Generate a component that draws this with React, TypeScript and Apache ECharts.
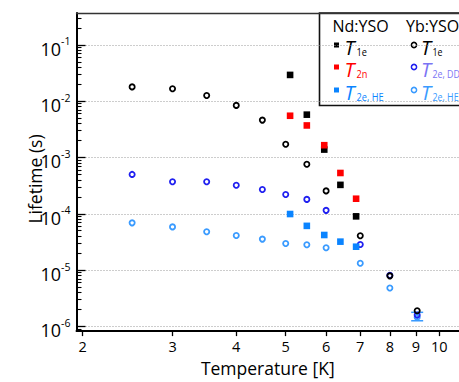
import React, { useEffect, useRef } from "react";
import * as echarts from "echarts";

// ---- data ----
const ybTemps = [2.5, 3, 3.5, 4, 4.5, 5, 5.5, 6, 7, 8, 9.05];
const ybT1e = [1.79e-2, 1.66e-2, 1.26e-2, 8.4e-3, 4.6e-3, 1.72e-3, 7.6e-4, 2.55e-4, 4.06e-5, 7.9e-6, 1.9e-6];
const ybT2eDD = [5.0e-4, 3.7e-4, 3.7e-4, 3.2e-4, 2.7e-4, 2.2e-4, 1.8e-4, 1.15e-4, 2.85e-5, 8.1e-6, 1.6e-6];
const ybT2eHE = [6.9e-5, 5.85e-5, 4.8e-5, 4.1e-5, 3.55e-5, 2.97e-5, 2.82e-5, 2.49e-5, 1.32e-5, 4.8e-6, 1.45e-6];

const ndTemps = [5.1, 5.5, 5.95, 6.4, 6.87];
const ndT1e = [2.92e-2, 5.75e-3, 1.38e-3, 3.26e-4, 9.0e-5];
const ndT2n = [5.5e-3, 3.7e-3, 1.65e-3, 5.3e-4, 1.85e-4];
const ndT2eHE = [9.9e-5, 6.1e-5, 4.2e-5, 3.2e-5, 2.6e-5];

const errTemps = [9.05];
const errLow = [1.26e-6];
const errHigh = [1.78e-6];

const xTickValues = [2, 3, 4, 5, 6, 7, 8, 9, 10];
const yMajorExponents = [-6, -5, -4, -3, -2, -1];
const yMinorMultipliers = [2, 3, 4, 5, 6, 7, 8, 9];

const xRange = [1.945, 10.93];
const yRange = [8.26e-7, 0.367];

const L = Math.log10;
const FONT = "Open Sans";

const C_BLACK = "#000000";
const C_RED = "#ff0000";
const C_ND_BLUE = "#0a84ff";
const C_YB_DD = "#2020f0";
const C_YB_DD_TEXT = "#7b74f4";
const C_YB_HE = "#3a9bff";

const pts = (t: number[], v: number[]) => t.map((x, i) => [L(x), L(v[i])]);

export default function App() {
  const ref = useRef<HTMLDivElement>(null);
  useEffect(() => {
    if (!ref.current) return;
    const chart = echarts.init(ref.current, null, { renderer: "svg" });

    const minorVals: number[] = [];
    for (let e = -7; e <= 0; e++) {
      for (const m of yMinorMultipliers) {
        const v = L(m) + e;
        if (v > L(yRange[0]) && v < L(yRange[1])) minorVals.push(v);
      }
    }

    const circle = (name: string, data: number[][], color: string) => ({
      name,
      type: "scatter",
      data,
      symbol: "circle",
      symbolSize: 5.2,
      itemStyle: { color: "rgba(0,0,0,0)", borderColor: color, borderWidth: 1.8, opacity: 1 },
    });
    const square = (name: string, data: number[][], color: string) => ({
      name,
      type: "scatter",
      data,
      symbol: "rect",
      symbolSize: 6.6,
      itemStyle: { color, opacity: 1 },
    });

    const legendRows = [
      { ndColor: C_BLACK, ndText: C_BLACK, ndSub: "1e", ybColor: C_BLACK, ybText: C_BLACK, ybSub: "1e" },
      { ndColor: C_RED, ndText: C_RED, ndSub: "2n", ybColor: C_YB_DD, ybText: C_YB_DD_TEXT, ybSub: "2e, DD" },
      { ndColor: C_ND_BLUE, ndText: C_ND_BLUE, ndSub: "2e, HE", ybColor: C_YB_HE, ybText: C_YB_HE, ybSub: "2e, HE" },
    ];
    const rowY = [45, 67, 90];
    const tStyle = (fill: string) => ({
      fontSize: 20,
      fontStyle: "italic",
      fontFamily: FONT,
      fill,
      verticalAlign: "middle",
    });
    const subStyle = (fill: string) => ({
      fontSize: 11.5,
      fontFamily: FONT,
      fill,
      verticalAlign: "middle",
    });
    const legendChildren: any[] = [
      {
        type: "rect",
        shape: { x: 319.5, y: 13, width: 150, height: 92.5 },
        style: { fill: "#fff", stroke: "#111", lineWidth: 1.6 },
      },
      { type: "text", x: 332.5, y: 26, style: { text: "Nd:YSO", fontSize: 16, fontFamily: FONT, fill: "#000", verticalAlign: "middle" } },
      { type: "text", x: 406, y: 26, style: { text: "Yb:YSO", fontSize: 16, fontFamily: FONT, fill: "#000", verticalAlign: "middle" } },
    ];
    legendRows.forEach((r, i) => {
      const cy = rowY[i];
      legendChildren.push(
        { type: "rect", shape: { x: 334, y: cy - 2.5, width: 5, height: 5 }, style: { fill: r.ndColor } },
        { type: "text", x: 344.5, y: cy + 2, style: { text: "T", ...tStyle(r.ndText) } },
        { type: "text", x: 356.5, y: cy + 7, scaleX: 0.8, style: { text: r.ndSub, ...subStyle(r.ndText) } },
        { type: "circle", shape: { cx: 414, cy, r: 2.6 }, style: { fill: "none", stroke: r.ybColor, lineWidth: 1.5 } },
        { type: "text", x: 421, y: cy + 2, style: { text: "T", ...tStyle(r.ybText) } },
        { type: "text", x: 432.5, y: cy + 7, scaleX: 0.77, style: { text: r.ybSub, ...subStyle(r.ybText) } }
      );
    });

    const option: any = {
      animation: false,
      backgroundColor: "#fff",
      grid: { left: 76.5, right: 0, top: 13, bottom: 49 },
      xAxis: [
        {
          type: "value",
          position: "bottom",
          min: L(xRange[0]),
          max: L(xRange[1]),
          axisLine: { show: true, lineStyle: { color: "#000", width: 2 } },
          axisTick: {
            show: true,
            customValues: xTickValues.map(L),
            inside: false,
            length: 5,
            lineStyle: { color: "#000", width: 1.3 },
          },
          axisLabel: {
            customValues: xTickValues.map(L),
            formatter: (v: number) => String(Math.round(Math.pow(10, v))),
            fontSize: 14.5,
            fontFamily: FONT,
            color: "#000",
            margin: 8,
          },
          splitLine: { show: false },
          name: "Temperature [K]",
          nameLocation: "middle",
          nameGap: 27,
          nameTextStyle: { fontSize: 17.5, fontFamily: FONT, color: "#000" },
        },
        {
          type: "value",
          position: "top",
          min: L(xRange[0]),
          max: L(xRange[1]),
          axisLine: { show: true, lineStyle: { color: "#333", width: 1.3 } },
          axisTick: { show: false },
          axisLabel: { show: false },
          splitLine: { show: false },
        },
      ],
      yAxis: [
        {
          type: "value",
          position: "left",
          min: L(yRange[0]),
          max: L(yRange[1]),
          axisLine: { show: true, lineStyle: { color: "#000", width: 2 } },
          axisTick: {
            show: true,
            customValues: yMajorExponents,
            inside: true,
            length: 9,
            lineStyle: { color: "#000", width: 1.3 },
          },
          axisLabel: {
            customValues: yMajorExponents,
            formatter: (v: number) => `{b|10}{s|${v}}`,
            margin: 6,
            padding: [4, 0, 0, 0],
            rich: {
              b: { fontSize: 18, fontFamily: FONT, color: "#000", lineHeight: 22, verticalAlign: "bottom" },
              s: { fontSize: 10.5, fontFamily: FONT, color: "#000", lineHeight: 12, verticalAlign: "top" },
            },
          },
          splitLine: { show: true, lineStyle: { color: "#9a9a9a", width: 1, type: [1, 2] } },
        },
        {
          type: "value",
          position: "left",
          min: L(yRange[0]),
          max: L(yRange[1]),
          axisLine: { show: false },
          axisTick: {
            show: true,
            customValues: minorVals,
            inside: true,
            length: 5,
            lineStyle: { color: "#000", width: 1.1 },
          },
          axisLabel: { show: false },
          splitLine: { show: false },
        },
      ],
      series: [
        circle("Yb T2e,HE", pts(ybTemps, ybT2eHE), C_YB_HE),
        circle("Yb T2e,DD", pts(ybTemps, ybT2eDD), C_YB_DD),
        circle("Yb T1e", pts(ybTemps, ybT1e), C_BLACK),
        {
          name: "error",
          type: "custom",
          data: errTemps.map((t, i) => [L(t), L(errLow[i]), L(errHigh[i])]),
          encode: { x: 0, y: [1, 2] },
          renderItem: (params: any, api: any) => {
            const x = api.value(0);
            const lo = api.coord([x, api.value(1)]);
            const hi = api.coord([x, api.value(2)]);
            const w = 6;
            const st = { stroke: C_YB_HE, lineWidth: 1.5 };
            return {
              type: "group",
              children: [
                { type: "line", shape: { x1: lo[0], y1: lo[1], x2: hi[0], y2: hi[1] }, style: st },
                { type: "line", shape: { x1: lo[0] - w, y1: lo[1], x2: lo[0] + w, y2: lo[1] }, style: st },
                { type: "line", shape: { x1: hi[0] - w, y1: hi[1], x2: hi[0] + w, y2: hi[1] }, style: st },
              ],
            };
          },
        },
        square("Nd T1e", pts(ndTemps, ndT1e), C_BLACK),
        square("Nd T2n", pts(ndTemps, ndT2n), C_RED),
        square("Nd T2e,HE", pts(ndTemps, ndT2eHE), C_ND_BLUE),
      ],
      graphic: [
        {
          type: "text",
          x: 35,
          y: 179,
          rotation: Math.PI / 2,
          style: {
            text: "Lifetime (s)",
            fontSize: 17.5,
            fontFamily: FONT,
            fill: "#000",
            align: "center",
            verticalAlign: "middle",
          },
        },
        { type: "group", z: 100, children: legendChildren },
      ],
    };
    chart.setOption(option);
    return () => chart.dispose();
  }, []);
  return <div ref={ref} style={{ width: 459, height: 382, position: "absolute", left: 0, top: 0 }} />;
}
